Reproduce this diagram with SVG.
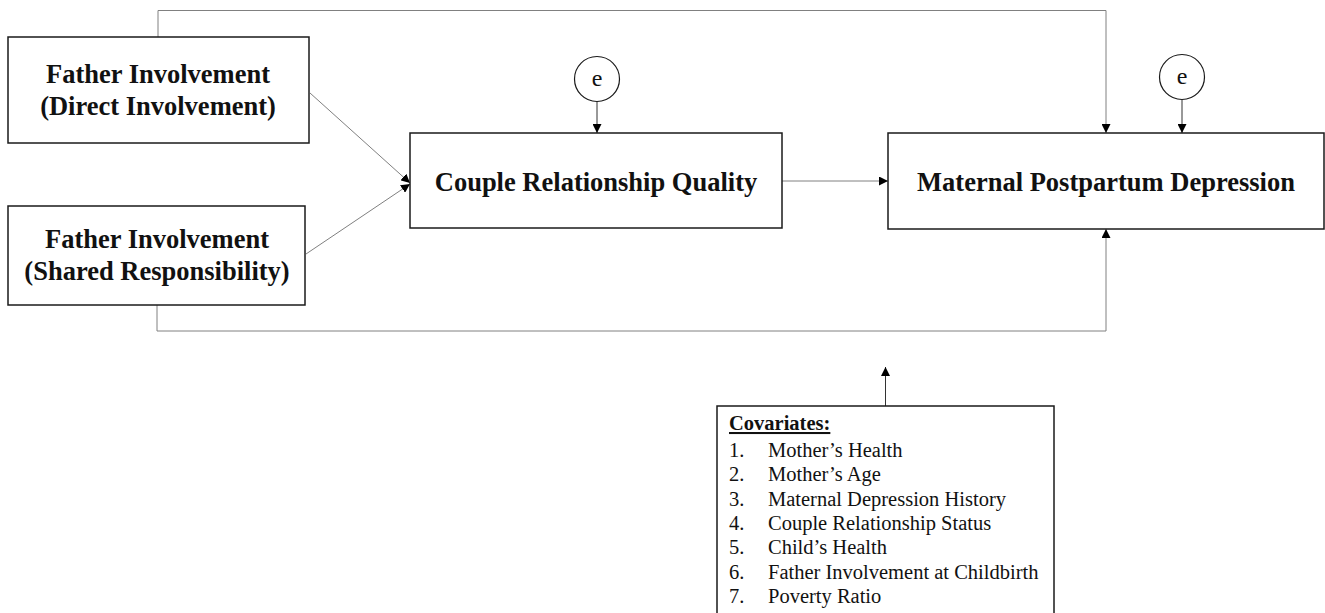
<svg xmlns="http://www.w3.org/2000/svg" width="1325" height="613" viewBox="0 0 1325 613">
<style>
.box{fill:#fff;stroke:#1a1a1a;stroke-width:1.5}
.t{font-family:"Liberation Serif","Times New Roman",serif;font-weight:bold;font-size:26.5px;fill:#111;text-anchor:middle}
.c{font-family:"Liberation Serif","Times New Roman",serif;font-size:20.5px;fill:#111}
.e{font-family:"Liberation Serif","Times New Roman",serif;font-size:24px;fill:#111;text-anchor:middle}
.ln{fill:none;stroke:#808080;stroke-width:1}
.ln2{fill:none;stroke:#333;stroke-width:1}
</style>
<defs>
<marker id="ah" viewBox="0 0 10 10" refX="10" refY="5" markerWidth="9" markerHeight="9" markerUnits="userSpaceOnUse" orient="auto">
<path d="M0,0 L10,5 L0,10 z" fill="#000"/>
</marker>
</defs>
<rect width="1325" height="613" fill="#fff"/>
<g id="connectors">
<path class="ln" d="M158,37 V10.5 H1106 V133" marker-end="url(#ah)"/>
<path class="ln" d="M157,305 V331 H1106 V229" marker-end="url(#ah)"/>
<path class="ln" d="M310,93 L410,183" marker-end="url(#ah)"/>
<path class="ln" d="M306,254 L410,184" marker-end="url(#ah)"/>
<path class="ln" d="M782,181 H888" marker-end="url(#ah)"/>
<path class="ln2" d="M597,101 V133" marker-end="url(#ah)"/>
<path class="ln2" d="M1182,100 V133" marker-end="url(#ah)"/>
<path class="ln2" d="M885.5,406 V367" marker-end="url(#ah)"/>
</g>
<g id="fi-direct">
<rect class="box" x="8" y="37" width="301" height="106"/>
<text class="t" x="158" y="83">Father Involvement</text>
<text class="t" x="158" y="115">(Direct Involvement)</text>
</g>
<g id="fi-shared">
<rect class="box" x="8" y="206" width="297" height="99"/>
<text class="t" x="157" y="248">Father Involvement</text>
<text class="t" x="157" y="280">(Shared Responsibility)</text>
</g>
<g id="crq">
<rect class="box" x="410" y="133" width="372" height="95"/>
<text class="t" x="596" y="191">Couple Relationship Quality</text>
</g>
<g id="mpd">
<rect class="box" x="888" y="133" width="436" height="96"/>
<text class="t" x="1106" y="191">Maternal Postpartum Depression</text>
</g>
<g id="e1">
<circle cx="597" cy="79" r="22.5" fill="#fff" stroke="#1a1a1a" stroke-width="1.2"/>
<text class="e" x="597" y="86">e</text>
</g>
<g id="e2">
<circle cx="1182" cy="77" r="22.5" fill="#fff" stroke="#1a1a1a" stroke-width="1.2"/>
<text class="e" x="1182" y="84">e</text>
</g>
<g id="covariates">
<rect class="box" x="717" y="406" width="337" height="230"/>
<text class="c" x="729" y="430" font-weight="bold" text-decoration="underline">Covariates:</text>
<text class="c" x="729" y="457">1.</text><text class="c" x="768" y="457">Mother’s Health</text>
<text class="c" x="729" y="481.3">2.</text><text class="c" x="768" y="481.3">Mother’s Age</text>
<text class="c" x="729" y="505.6">3.</text><text class="c" x="768" y="505.6">Maternal Depression History</text>
<text class="c" x="729" y="529.9">4.</text><text class="c" x="768" y="529.9">Couple Relationship Status</text>
<text class="c" x="729" y="554.2">5.</text><text class="c" x="768" y="554.2">Child’s Health</text>
<text class="c" x="729" y="578.5">6.</text><text class="c" x="768" y="578.5">Father Involvement at Childbirth</text>
<text class="c" x="729" y="602.8">7.</text><text class="c" x="768" y="602.8">Poverty Ratio</text>
</g>
</svg>
